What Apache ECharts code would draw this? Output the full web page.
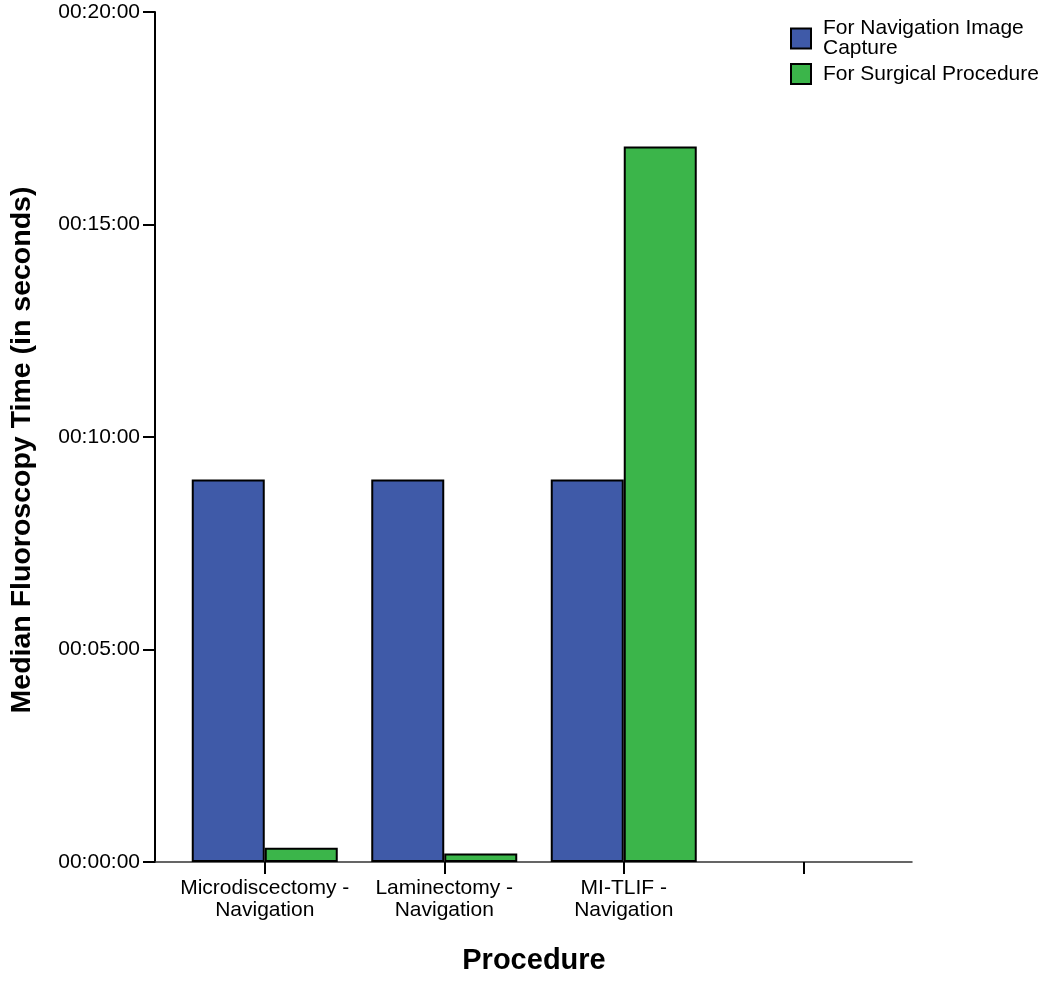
<!DOCTYPE html>
<html><head><meta charset="utf-8">
<script src="https://cdn.jsdelivr.net/npm/echarts@6/dist/echarts.min.js"></script>
<style>html,body{margin:0;padding:0;background:#fff}#c{width:1050px;height:981px}</style>
</head><body><div id="c"></div>
<script>
const categories = ['Microdiscectomy -\nNavigation', 'Laminectomy -\nNavigation', 'MI-TLIF -\nNavigation', ''];
const navImageCapture = [540, 540, 540, null];   // seconds
const surgicalProcedure = [20, 12, 1010, null];  // seconds
const yTicks = [0, 300, 600, 900, 1200];
const seriesNames = ['For Navigation Image\nCapture', 'For Surgical Procedure'];

function fmt(v){
  const h = Math.floor(v/3600), m = Math.floor((v%3600)/60), s = Math.round(v%60);
  const p = n => String(n).padStart(2,'0');
  return p(h)+':'+p(m)+':'+p(s);
}
const FONT = '"Liberation Sans", Arial, Helvetica, sans-serif';
const chart = echarts.init(document.getElementById('c'));
chart.setOption({
  animation: false,
  textStyle: {fontFamily: FONT},
  legend: {
    orient: 'vertical', left: 785, top: 13, itemWidth: 20, itemHeight: 20, itemGap: 4,
    icon: 'rect',
    data: seriesNames,
    textStyle: {fontSize: 21, color: '#000', lineHeight: 20, fontFamily: FONT, padding: [0, 0, 0, 7]},
    itemStyle: {borderColor: '#000', borderWidth: 2}
  },
  grid: [
    {left: 173, right: 157, top: 12, bottom: 119},
    {left: 153, right: 138, top: 12, bottom: 119}
  ],
  xAxis: [
    {type: 'category', gridIndex: 0, data: categories,
     axisLine: {show: false},
     axisTick: {show: true, alignWithLabel: true, length: 12, lineStyle: {color: '#000', width: 2}},
     axisLabel: {color: '#000', fontSize: 21, lineHeight: 22, margin: 15, interval: 0, fontFamily: FONT},
     name: 'Procedure', nameLocation: 'middle', nameGap: 84,
     nameTextStyle: {fontSize: 29, fontWeight: 'bold', color: '#000', fontFamily: FONT}},
    {type: 'category', gridIndex: 1, data: [''],
     axisLine: {show: true, lineStyle: {color: '#333', width: 1.5}},
     axisTick: {show: false}, axisLabel: {show: false}}
  ],
  yAxis: [
    {type: 'value', gridIndex: 0, min: 0, max: 1200, interval: 300, offset: 20,
     splitLine: {show: false},
     axisLine: {show: true, lineStyle: {color: '#000', width: 2}},
     axisTick: {show: true, length: 12, lineStyle: {color: '#000', width: 2}},
     axisLabel: {color: '#000', fontSize: 21, margin: 15, formatter: v => fmt(v), fontFamily: FONT},
     name: 'Median Fluoroscopy Time (in seconds)', nameLocation: 'middle', nameGap: 118,
     nameTextStyle: {fontSize: 28.5, fontWeight: 'bold', color: '#000', fontFamily: FONT, padding: [0, 26, 0, 0]}},
    {type: 'value', gridIndex: 1, min: 0, max: 1200, show: false}
  ],
  series: [
    {name: seriesNames[0], type: 'bar', xAxisIndex: 0, yAxisIndex: 0, data: navImageCapture,
     barWidth: 73, barGap: '0%',
     itemStyle: {color: '#3F5AA8', borderColor: '#000', borderWidth: 2}},
    {name: seriesNames[1], type: 'bar', xAxisIndex: 0, yAxisIndex: 0, data: surgicalProcedure,
     barWidth: 73, barGap: '0%',
     itemStyle: {color: '#3BB54A', borderColor: '#000', borderWidth: 2}}
  ]
});
</script></body></html>
